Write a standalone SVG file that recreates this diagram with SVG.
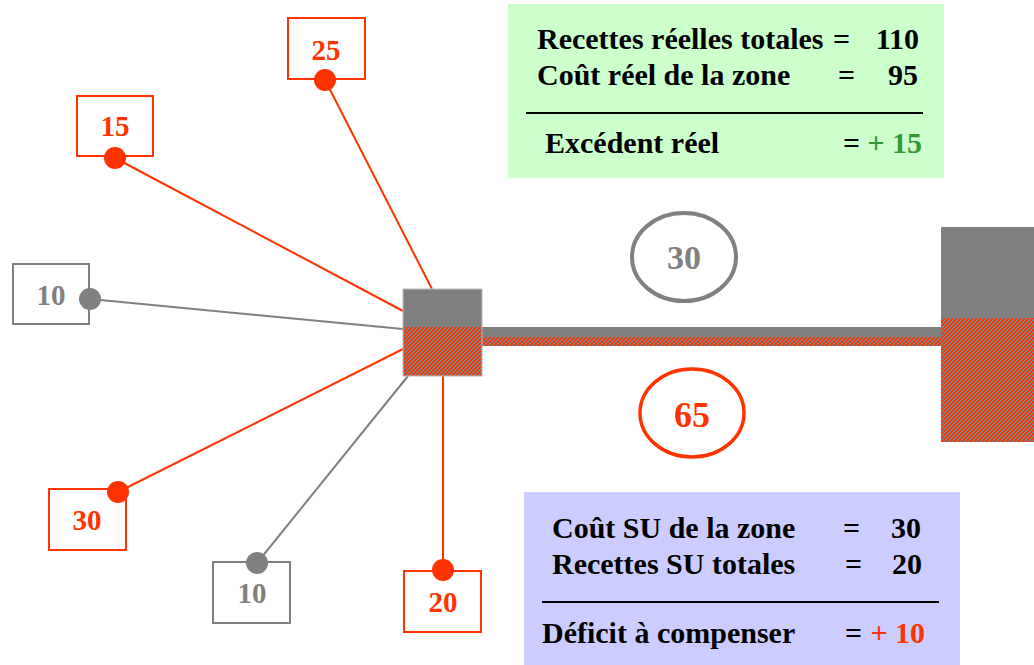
<svg xmlns="http://www.w3.org/2000/svg" width="1034" height="665" viewBox="0 0 1034 665">
<style>
.t{font-family:"Liberation Serif","Times New Roman",serif;font-weight:bold}
.big{font-size:30px}
.num{font-size:29px}
.red{fill:#FF3300}
.gray{fill:#808080}
.blk{fill:#000}
.grn{fill:#339933}
.cr{stroke:#FF3300;stroke-width:2;fill:none}
.cg{stroke:#808080;stroke-width:2;fill:none}
.br{fill:#fff;stroke:#FF3300;stroke-width:2}
.bg{fill:#fff;stroke:#808080;stroke-width:2}
</style>
<defs>
<pattern id="hatch" patternUnits="userSpaceOnUse" width="4" height="4">
<g shape-rendering="crispEdges">
<rect width="4" height="4" fill="#808080"/>
<rect x="2" y="0" width="2" height="1" fill="#FF3300"/>
<rect x="1" y="1" width="2" height="1" fill="#FF3300"/>
<rect x="0" y="2" width="2" height="1" fill="#FF3300"/>
<rect x="0" y="3" width="1" height="1" fill="#FF3300"/>
<rect x="3" y="3" width="1" height="1" fill="#FF3300"/>
</g>
</pattern>
</defs>
<rect width="1034" height="665" fill="#fff"/>

<g id="summary-real">
<rect x="508" y="4" width="436" height="174" fill="#CCFFCC"/>
<text class="t big blk" x="537" y="49">Recettes réelles totales</text>
<text class="t big blk" x="833" y="49">=</text>
<text class="t big blk" x="919" y="49" text-anchor="end">110</text>
<text class="t big blk" x="537" y="85">Coût réel de la zone</text>
<text class="t big blk" x="838" y="85">=</text>
<text class="t big blk" x="918" y="85" text-anchor="end">95</text>
<line x1="526" y1="113" x2="923" y2="113" stroke="#000" stroke-width="2"/>
<text class="t big blk" x="545" y="153">Excédent réel</text>
<text class="t big blk" x="843" y="153">=</text>
<text class="t big grn" x="922" y="153" text-anchor="end">+ 15</text>
</g>

<g id="summary-su">
<rect x="524" y="492" width="436" height="173" fill="#CCCCFF"/>
<text class="t big blk" x="552" y="538">Coût SU de la zone</text>
<text class="t big blk" x="843" y="538">=</text>
<text class="t big blk" x="921" y="538" text-anchor="end">30</text>
<text class="t big blk" x="552" y="574">Recettes SU totales</text>
<text class="t big blk" x="845" y="574">=</text>
<text class="t big blk" x="922" y="574" text-anchor="end">20</text>
<line x1="542" y1="602" x2="939" y2="602" stroke="#000" stroke-width="2"/>
<text class="t big blk" x="542" y="643">Déficit à compenser</text>
<text class="t big blk" x="845" y="643">=</text>
<text class="t big red" x="925" y="643" text-anchor="end">+ 10</text>
</g>

<g id="connectors">
<line class="cr" x1="325" y1="80" x2="432" y2="289"/>
<line class="cr" x1="115" y1="158" x2="403" y2="311"/>
<line class="cg" x1="90" y1="299" x2="403" y2="329"/>
<line class="cr" x1="118" y1="492" x2="403" y2="349"/>
<line class="cg" x1="257" y1="563" x2="408" y2="376"/>
<line class="cr" x1="443" y1="376" x2="443" y2="570"/>
</g>

<g id="link-bar">
<rect x="482" y="327" width="459" height="10" fill="#808080"/>
<rect x="482" y="337" width="459" height="9" fill="url(#hatch)"/>
</g>

<g id="hub">
<rect x="403" y="289" width="79" height="38" fill="#808080"/>
<rect x="403" y="327" width="79" height="49" fill="url(#hatch)"/>
<rect x="403" y="289" width="79" height="87" fill="none" stroke="#BBBBBB" stroke-width="1"/>
</g>

<g id="zone-right">
<rect x="941" y="227" width="93" height="91" fill="#808080"/>
<rect x="941" y="318" width="93" height="124" fill="url(#hatch)"/>
</g>

<g id="flow-30">
<ellipse cx="684" cy="257" rx="52" ry="44" fill="none" stroke="#808080" stroke-width="4"/>
<text class="t gray" x="684" y="269" font-size="34" text-anchor="middle">30</text>
</g>

<g id="flow-65">
<ellipse cx="692" cy="413" rx="52" ry="44" fill="none" stroke="#FF3300" stroke-width="3.5"/>
<text class="t red" x="692" y="427" font-size="36" text-anchor="middle">65</text>
</g>

<g id="node-25">
<rect class="br" x="288" y="18" width="77" height="61"/>
<text class="t num red" x="326" y="60" text-anchor="middle">25</text>
<circle cx="325" cy="80" r="11" fill="#FF3300"/>
</g>

<g id="node-15">
<rect class="br" x="77" y="96" width="76" height="60"/>
<text class="t num red" x="115" y="136" text-anchor="middle">15</text>
<circle cx="115" cy="158" r="11" fill="#FF3300"/>
</g>

<g id="node-10a">
<rect class="bg" x="13" y="264" width="76" height="60"/>
<text class="t num gray" x="51" y="305" text-anchor="middle">10</text>
<circle cx="90" cy="299" r="11" fill="#808080"/>
</g>

<g id="node-30">
<rect class="br" x="49" y="489" width="77" height="61"/>
<text class="t num red" x="87" y="530" text-anchor="middle">30</text>
<circle cx="118" cy="492" r="11" fill="#FF3300"/>
</g>

<g id="node-10b">
<rect class="bg" x="213" y="562" width="77" height="61"/>
<text class="t num gray" x="252" y="603" text-anchor="middle">10</text>
<circle cx="257" cy="563" r="11" fill="#808080"/>
</g>

<g id="node-20">
<rect class="br" x="404" y="571" width="77" height="61"/>
<text class="t num red" x="443" y="612" text-anchor="middle">20</text>
<circle cx="443" cy="570" r="11" fill="#FF3300"/>
</g>
</svg>
